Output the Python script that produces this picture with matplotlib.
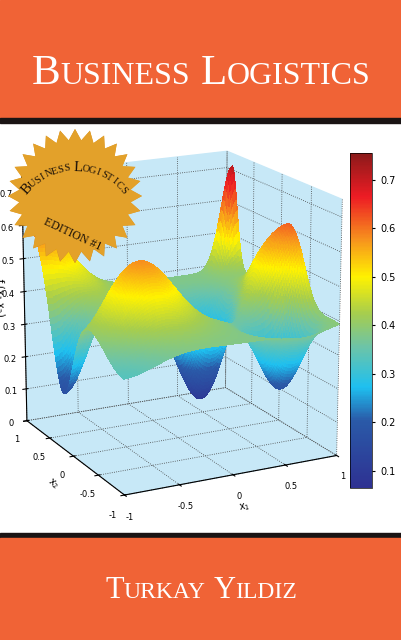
import numpy as np
import matplotlib
matplotlib.use("Agg")
import matplotlib.pyplot as plt
from matplotlib.patches import Rectangle, Polygon
from matplotlib.colors import LinearSegmentedColormap

base_level = 0.38
bump_x1 = [1.0, 1.0, -0.5, -1.0, -1.0, 0.3, 0.7, -1.0, 0.5]
bump_x2 = [0.9, -0.2, -0.3, 0.9, 0.2, 0.15, -0.55, -1.0, 0.4]
bump_h = [0.33, 0.25, 0.2, 0.24, -0.25, -0.3, -0.3, -0.05, -0.12]
bump_w = [0.1, 0.35, 0.28, 0.35, 0.2, 0.22, 0.2, 0.3, 0.15]

cbar_ticks = [0.1, 0.2, 0.3, 0.4, 0.5, 0.6, 0.7]
axis_ticks = [-1, -0.5, 0, 0.5, 1]
z_ticks = [0, 0.1, 0.2, 0.3, 0.4, 0.5, 0.6, 0.7]
cmap_stops = [0.0, 0.2, 0.3, 0.42, 0.52, 0.63, 0.74, 0.87, 1.0]
cmap_colors = ["#2e3192", "#2a5aa8", "#1ec0f0", "#6cc4a8", "#a6cd4e",
               "#fff200", "#f7941d", "#ed1c24", "#8b1a1a"]

ORANGE = "#f06336"

fig = plt.figure(figsize=(4.02, 6.4), dpi=100)
fig.patch.set_facecolor("white")

# cover bands
bg = fig.add_axes([0, 0, 1, 1])
bg.set_xlim(0, 402)
bg.set_ylim(640, 0)
bg.axis("off")
bg.add_patch(Rectangle((0, 0), 402, 118, color=ORANGE))
bg.add_patch(Rectangle((0, 118), 402, 5, color="#1a1414"))
bg.add_patch(Rectangle((0, 533), 402, 5, color="#1a1414"))
bg.add_patch(Rectangle((0, 538), 402, 102, color=ORANGE))


def small_caps(ax, x_center, y, words, big, small, color="white"):
    # lay out small caps text piece by piece, then shift to centre it
    fig.canvas.draw()
    r = fig.canvas.get_renderer()
    pieces = []
    for wi, w in enumerate(words):
        pieces.append((w[0], big))
        pieces.append((w[1:].upper(), small))
        if wi < len(words) - 1:
            pieces.append((" ", big))
    texts = []
    x = 0
    inv = ax.transData.inverted()
    for s, fs in pieces:
        t = ax.text(x, y, s, fontsize=fs, family="Liberation Serif", color=color,
                    va="baseline", ha="left")
        bb = t.get_window_extent(r)
        w = inv.transform((bb.x1, bb.y0))[0] - inv.transform((bb.x0, bb.y0))[0]
        if s == " ":
            w = fs * 0.35
        texts.append((t, x))
        x += w
    off = x_center - x / 2
    for t, xx in texts:
        t.set_x(xx + off)


small_caps(bg, 201, 84, ["Business", "Logistics"], 31, 23)
small_caps(bg, 201, 598, ["Turkay", "Yildiz"], 22, 17)

# surface data
x1 = np.linspace(-1, 1, 121)
x2 = np.linspace(-1, 1, 121)
X1, X2 = np.meshgrid(x1, x2)
Z = np.full_like(X1, base_level)
for a, b, h, w in zip(bump_x1, bump_x2, bump_h, bump_w):
    Z += h * np.exp(-((X1 - a) ** 2 + (X2 - b) ** 2) / (2 * w ** 2))

cmap = LinearSegmentedColormap.from_list("cover", list(zip(cmap_stops, cmap_colors)))

ax = fig.add_axes([-0.08, 0.17, 1.02, 0.66], projection="3d")
ax.set_facecolor("none")
ax.view_init(elev=17, azim=-117)
ax.set_box_aspect((1, 1, 1.12), zoom=1.0)
surf = ax.plot_surface(X1, X2, Z, cmap=cmap, vmin=0.065, vmax=0.755,
                       rstride=1, cstride=1, linewidth=0, antialiased=False, shade=False)
ax.set_xlim(-1, 1)
ax.set_ylim(-1, 1)
ax.set_zlim(0, 0.75)
ax.set_xticks(axis_ticks)
ax.set_yticks(axis_ticks)
ax.set_zticks(z_ticks)
ax.set_xticklabels(["-1", "-0.5", "0", "0.5", "1"])
ax.set_yticklabels(["-1", "-0.5", "0", "0.5", "1"])
ax.set_zticklabels(["0", "0.1", "0.2", "0.3", "0.4", "0.5", "0.6", "0.7"])
ax.tick_params(labelsize=6, pad=0)
ax.set_xlabel("x$_1$", fontsize=7, labelpad=-6)
ax.set_ylabel("x$_2$", fontsize=7, labelpad=-6)
ax.set_zlabel("f (x$_1$,x$_2$)", fontsize=7, labelpad=-8)
for axis in (ax.xaxis, ax.yaxis, ax.zaxis):
    axis.set_pane_color((0.78, 0.91, 0.97, 1.0))
    axis._axinfo["grid"].update(color="#444444", linestyle=":", linewidth=0.6)

cax = fig.add_axes([0.871, 0.238, 0.055, 0.523])
cb = fig.colorbar(surf, cax=cax, ticks=cbar_ticks)
cb.ax.tick_params(labelsize=7, length=2)
cb.outline.set_linewidth(0.5)

# gold seal
seal = fig.add_axes([0, 0, 1, 1])
seal.set_xlim(0, 402)
seal.set_ylim(640, 0)
seal.axis("off")
cx, cy = 75, 196
n = 28
ang = np.linspace(0, 2 * np.pi, 2 * n, endpoint=False)
rad = np.where(np.arange(2 * n) % 2 == 0, 67, 56)
pts = np.column_stack([cx + rad * np.cos(ang), cy + rad * np.sin(ang)])
star = Polygon(pts, closed=True, facecolor="#e3a12a", edgecolor="none")
seal.add_patch(star)
gy, gx = np.mgrid[-1:1:200j, -1:1:200j]
grad = np.clip(1 - 0.6 * gx ** 2 - 0.9 * (gy + 0.05) ** 2, 0, 1)
img = seal.imshow(grad, cmap=LinearSegmentedColormap.from_list(
    "gold", ["#b86d10", "#e09a25", "#f7d060"]), extent=(cx - 67, cx + 67, cy + 67, cy - 67))
img.set_clip_path(star)

# curved top title on the seal, letters spaced by their width
top = "BUSINESS LOGISTICS"
tsz = [10.5 if c in "BL" else 7.5 for c in top]
widths = np.array([1.35 if c in "BL" else (0.55 if c == " " else 0.95) for c in top])
acx, acy, ar = 75, 232, 64
span = np.cumsum(widths) - widths / 2
angs = 142 - (142 - 38) * span / widths.sum()
for ch, a, fs in zip(top, angs, tsz):
    seal.text(acx + ar * np.cos(np.radians(a)), acy - ar * np.sin(np.radians(a)), ch,
              fontsize=fs, family="Liberation Serif", color="#1a1008",
              rotation=a - 90, ha="center", va="center")
seal.text(72, 234, "EDITION #1", fontsize=8.5, family="Liberation Serif",
          color="#1a1008", rotation=-25, ha="center", va="center")

fig.savefig("out.png", dpi=100)
